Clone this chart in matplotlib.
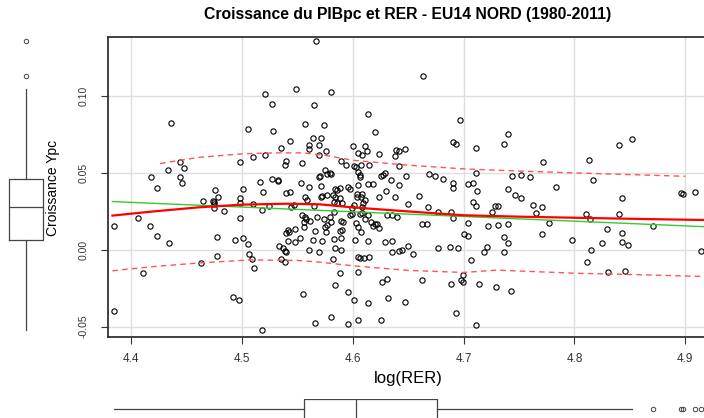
import numpy as np
import matplotlib
matplotlib.use('Agg')
import matplotlib.pyplot as plt

plt.rcParams['font.family'] = ['Liberation Sans', 'DejaVu Sans']
plt.rcParams['axes.unicode_minus'] = False

# log(RER) and per-capita growth
log_rer = [
    4.549, 4.521, 4.527, 4.436, 4.505, 4.528, 4.557, 4.543, 4.535, 4.560, 4.560, 4.510, 4.521,
    4.444, 4.448, 4.433, 4.498, 4.418, 4.444, 4.446, 4.423, 4.476, 4.501, 4.516, 4.527, 4.532,
    4.532, 4.519,
    4.567, 4.663, 4.580, 4.565, 4.614, 4.574, 4.620, 4.697, 4.564, 4.571, 4.569, 4.576, 4.569,
    4.600, 4.611, 4.605, 4.608, 4.613, 4.624, 4.638, 4.639, 4.642, 4.647, 4.690, 4.693, 4.711,
    4.648, 4.669, 4.674, 4.681, 4.690, 4.704, 4.708, 4.711, 4.690, 4.712,
    4.465, 4.474, 4.475, 4.475, 4.478, 4.498, 4.498, 4.510, 4.475, 4.484, 4.518, 4.524, 4.406,
    4.384, 4.417, 4.423, 4.434, 4.477, 4.498, 4.494, 4.501, 4.505, 4.506, 4.509, 4.511, 4.477,
    4.463, 4.411, 4.533, 4.492, 4.497, 4.384, 4.518, 4.555,
    4.660, 4.668, 4.677, 4.689, 4.690, 4.708, 4.711, 4.726, 4.650, 4.662, 4.667, 4.677, 4.688,
    4.695, 4.650, 4.654, 4.644, 4.700, 4.704, 4.704, 4.722, 4.721, 4.718, 4.707,
    4.662, 4.689, 4.699, 4.698, 4.699, 4.714, 4.626, 4.631, 4.632, 4.647, 4.614, 4.601, 4.596,
    4.588, 4.584, 4.605, 4.580, 4.566, 4.596, 4.605, 4.625, 4.693, 4.711,
    4.740, 4.736, 4.772, 4.744, 4.752, 4.760, 4.783, 4.740, 4.746, 4.752, 4.763, 4.771, 4.728,
    4.731, 4.765, 4.777, 4.731, 4.740, 4.771, 4.736, 4.740, 4.736, 4.798, 4.813, 4.840, 4.852,
    4.817, 4.843, 4.810, 4.814, 4.840, 4.829, 4.843, 4.843, 4.848, 4.825, 4.815, 4.811, 4.830,
    4.846, 4.871, 4.898, 4.909, 4.914, 4.729, 4.743, 4.896,
    4.540, 4.539, 4.554, 4.589, 4.594, 4.601, 4.603, 4.607, 4.615, 4.642, 4.575, 4.579, 4.577,
    4.580, 4.569, 4.570, 4.605, 4.606, 4.606, 4.625, 4.629, 4.627, 4.634, 4.642, 4.553, 4.560,
    4.571, 4.584, 4.588, 4.586, 4.596, 4.597, 4.605, 4.614, 4.618, 4.540, 4.543, 4.557, 4.559,
    4.572, 4.571, 4.577, 4.582, 4.584, 4.588, 4.604, 4.608, 4.604, 4.607, 4.611, 4.609, 4.624,
    4.630, 4.638, 4.583, 4.586, 4.590, 4.565, 4.547, 4.544, 4.599, 4.601, 4.608, 4.554, 4.557,
    4.558, 4.561, 4.568, 4.583, 4.597, 4.599, 4.606, 4.608, 4.614, 4.611, 4.616, 4.620, 4.622,
    4.618, 4.624, 4.631, 4.635, 4.640, 4.574, 4.579, 4.580, 4.577, 4.575, 4.576, 4.589, 4.591,
    4.603, 4.605, 4.607, 4.556, 4.556, 4.541, 4.542, 4.540, 4.548, 4.566, 4.588, 4.590, 4.552,
    4.548, 4.541, 4.564, 4.572, 4.583, 4.589, 4.602, 4.614, 4.629, 4.635, 4.537, 4.539, 4.540,
    4.560, 4.569, 4.584, 4.589, 4.635, 4.642, 4.582, 4.605, 4.606, 4.610, 4.615, 4.535, 4.539,
]
ypc = [
    0.1043, 0.1007, 0.0948, 0.0824, 0.0785, 0.0772, 0.0815, 0.0707, 0.0661, 0.0680, 0.0650, 0.0604, 0.0611,
    0.0570, 0.0530, 0.0515, 0.0570, 0.0472, 0.0472, 0.0435, 0.0402, 0.0387, 0.0391, 0.0441, 0.0461, 0.0450,
    0.0443, 0.0374,
    0.1352, 0.1130, 0.1022, 0.0939, 0.0883, 0.0811, 0.0765, 0.0843, 0.0722, 0.0722, 0.0680, 0.0637, 0.0613,
    0.0670, 0.0674, 0.0628, 0.0617, 0.0643, 0.0622, 0.0607, 0.0646, 0.0641, 0.0652, 0.0696, 0.0683, 0.0661,
    0.0478, 0.0493, 0.0476, 0.0461, 0.0435, 0.0428, 0.0430, 0.0498, 0.0402, 0.0378,
    0.0318, 0.0318, 0.0312, 0.0297, 0.0344, 0.0335, 0.0303, 0.0299, 0.0268, 0.0251, 0.0260, 0.0281, 0.0208,
    0.0154, 0.0156, 0.0087, 0.0043, 0.0084, 0.0206, 0.0065, 0.0074, 0.0037, -0.0026, -0.0063, -0.0121, -0.0041,
    -0.0087, -0.0154, 0.0022, -0.0310, -0.0327, -0.0400, -0.0522, -0.0288,
    0.0351, 0.0279, 0.0247, 0.0242, 0.0208, 0.0307, 0.0286, 0.0242, 0.0299, 0.0167, 0.0167, 0.0011, 0.0019,
    0.0013, 0.0026, -0.0026, 0.0000, 0.0102, 0.0091, 0.0171, 0.0156, 0.0017, -0.0017, -0.0065,
    -0.0195, -0.0221, -0.0162, -0.0197, -0.0212, -0.0221, -0.0208, -0.0190, -0.0316, -0.0338, -0.0344, -0.0329, -0.0273,
    -0.0152, -0.0232, -0.0143, -0.0439, -0.0476, -0.0483, -0.0459, -0.0455, -0.0409, -0.0491,
    0.0751, 0.0686, 0.0569, 0.0478, 0.0487, 0.0472, 0.0409, 0.0394, 0.0353, 0.0336, 0.0292, 0.0277, 0.0284,
    0.0284, 0.0240, 0.0173, 0.0162, 0.0169, 0.0104, 0.0082, 0.0045, -0.0017, 0.0063, 0.0584, 0.0680, 0.0719,
    0.0450, 0.0336, 0.0232, 0.0197, 0.0230, 0.0132, 0.0106, 0.0052, 0.0028, 0.0041, 0.0000, -0.0080, -0.0145,
    -0.0139, 0.0154, 0.0364, 0.0372, -0.0006, -0.0242, -0.0268, 0.0366,
    0.0578, 0.0550, 0.0563, 0.0578, 0.0552, 0.0543, 0.0539, 0.0552, 0.0552, 0.0545, 0.0517, 0.0496, 0.0491,
    0.0491, 0.0474, 0.0480, 0.0502, 0.0485, 0.0470, 0.0476, 0.0496, 0.0483, 0.0455, 0.0420, 0.0433, 0.0405,
    0.0413, 0.0394, 0.0403, 0.0388, 0.0405, 0.0392, 0.0418, 0.0424, 0.0424, 0.0368, 0.0372, 0.0340, 0.0323,
    0.0346, 0.0340, 0.0355, 0.0355, 0.0340, 0.0335, 0.0361, 0.0361, 0.0340, 0.0340, 0.0323, 0.0301, 0.0344,
    0.0383, 0.0340, 0.0307, 0.0301, 0.0305, 0.0286, 0.0292, 0.0275, 0.0271, 0.0288, 0.0279, 0.0225, 0.0210,
    0.0197, 0.0188, 0.0210, 0.0247, 0.0227, 0.0232, 0.0232, 0.0236, 0.0227, 0.0199, 0.0180, 0.0167, 0.0167,
    0.0156, 0.0141, 0.0227, 0.0227, 0.0210, 0.0199, 0.0210, 0.0177, 0.0158, 0.0145, 0.0117, 0.0188, 0.0180,
    0.0175, 0.0149, 0.0117, 0.0177, 0.0149, 0.0130, 0.0115, 0.0106, 0.0134, 0.0119, 0.0123, 0.0128, 0.0074,
    0.0048, 0.0054, 0.0063, 0.0054, 0.0069, 0.0074, 0.0063, 0.0058, 0.0052, 0.0058, 0.0013, -0.0008, -0.0015,
    0.0000, -0.0013, 0.0009, -0.0002, -0.0015, -0.0009, -0.0061, -0.0050, -0.0056, -0.0054, -0.0050, -0.0060, -0.0082,
]

# fitted curves
lin_x = [4.383, 4.92]
lin_y = [0.0312, 0.0148]
smooth_x = [4.383, 4.42, 4.46, 4.50, 4.54, 4.57, 4.60, 4.65, 4.70, 4.75, 4.80, 4.86, 4.92]
smooth_y = [0.0221, 0.0248, 0.0274, 0.0292, 0.0298, 0.0294, 0.0274, 0.0248, 0.0223, 0.0214, 0.0207, 0.0199, 0.0192]
upper_x = [4.426, 4.46, 4.50, 4.53, 4.555, 4.575, 4.60, 4.65, 4.70, 4.75, 4.80, 4.85, 4.90]
upper_y = [0.0559, 0.0598, 0.0622, 0.0628, 0.0628, 0.0612, 0.0580, 0.0548, 0.0524, 0.0510, 0.0498, 0.0487, 0.0476]
lower_x = [4.383, 4.42, 4.462, 4.507, 4.55, 4.571, 4.60, 4.65, 4.70, 4.73, 4.80, 4.86, 4.92]
lower_y = [-0.0137, -0.0110, -0.0086, -0.0067, -0.0070, -0.0082, -0.0105, -0.0135, -0.0148, -0.0133, -0.0153, -0.0163, -0.0175]

x_ticks = [4.4, 4.5, 4.6, 4.7, 4.8, 4.9]
y_ticks = [-0.05, 0.0, 0.05, 0.10]

W, H = 704, 418
def box_px(l, t, r, b):
    return [l / W, 1 - b / H, (r - l) / W, (b - t) / H]

fig = plt.figure(figsize=(W / 100, H / 100), dpi=100)
ax = fig.add_axes(box_px(108, 37, 708, 337))
axl = fig.add_axes(box_px(0, 37, 52, 337), sharey=ax)
axb = fig.add_axes(box_px(108, 399, 708, 419), sharex=ax)

ax.set_xlim(4.379, 4.9205)
ax.set_ylim(-0.0567, 0.138)
ax.set_xticks(x_ticks)
ax.set_yticks(y_ticks)
ax.set_xticklabels([f'{v:.1f}' for v in x_ticks], fontsize=8.5)
ax.set_yticklabels([f'{v:.2f}' for v in y_ticks], rotation=90, va='center', fontsize=7.5)
ax.grid(True, color='#dedede', lw=1.0)
ax.set_axisbelow(True)
ax.tick_params(direction='out', length=5, width=0.8, colors='#333333')
ax.tick_params(axis='x', pad=6.5)
ax.tick_params(axis='y', pad=9)
for side in ['top', 'left', 'bottom']:
    ax.spines[side].set_color('#333333')
    ax.spines[side].set_linewidth(1.3)
ax.spines['right'].set_visible(False)

ax.plot(log_rer, ypc, 'o', mfc='none', mec='black', ms=3.8, mew=0.8, zorder=3)
ax.plot(lin_x, lin_y, color='#33cc33', lw=1.0, zorder=4)
ax.plot(smooth_x, smooth_y, color='red', lw=1.6, zorder=5)
ax.plot(upper_x, upper_y, color='#ff5555', lw=1.0, ls=(0, (4, 3)), zorder=4)
ax.plot(lower_x, lower_y, color='#ff5555', lw=1.0, ls=(0, (4, 3)), zorder=4)

bp_style = dict(
    showcaps=False,
    boxprops=dict(color='#444444', lw=0.9),
    whiskerprops=dict(color='#444444', lw=0.9),
    medianprops=dict(color='#444444', lw=0.9),
    flierprops=dict(marker='o', mfc='none', mec='#444444', ms=3.2, mew=0.7),
)
axl.boxplot(ypc, positions=[0], widths=1.3, whis=1.5, **bp_style)
axl.set_xlim(-1, 1)
axl.axis('off')

axb.boxplot(log_rer, positions=[0], widths=2.0, whis=1.5, orientation='horizontal', **bp_style)
axb.set_ylim(-1, 1)
axb.axis('off')

fig.text(408 / W, 1 - 15 / H, 'Croissance du PIBpc et RER - EU14 NORD (1980-2011)',
         ha='center', va='center', fontsize=11.3, fontweight='bold')
fig.text(408 / W, 1 - 378 / H, 'log(RER)', ha='center', va='center', fontsize=12)
fig.text(53 / W, 1 - 187.5 / H, 'Croissance Ypc', ha='center', va='center',
         rotation=90, fontsize=10)

fig.savefig('out.png', dpi=100)
